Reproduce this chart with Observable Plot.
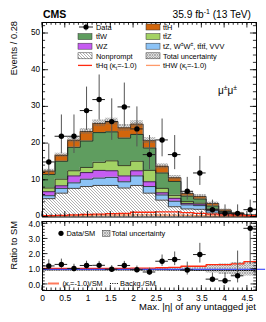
<!DOCTYPE html>
<html><head><meta charset="utf-8">
<script src="https://cdn.jsdelivr.net/npm/d3@7"></script>
<script src="https://cdn.jsdelivr.net/npm/@observablehq/plot@0.6"></script>
<style>
body{margin:0;background:#fff;}
#wrap{position:relative;width:266px;height:322px;overflow:hidden;font-family:"Liberation Sans",Arial,Helvetica,sans-serif;}
#wrap > svg{position:absolute;left:0;overflow:visible;}
</style>
</head><body>
<svg width="0" height="0" style="position:absolute">
<defs>
<pattern id="hatchNP" patternUnits="userSpaceOnUse" width="3" height="3">
<rect width="3" height="3" fill="#fff"/>
<path d="M0,0L3,3M-1,2L1,4M2,-1L4,1" stroke="#7a7a7a" stroke-width="0.6"/>
</pattern>
<pattern id="hatchUnc" patternUnits="userSpaceOnUse" width="2.5" height="2.5">
<path d="M0,0L2.5,2.5M-1,1.5L1,3.5M1.5,-1L3.5,1M0,2.5L2.5,0M-1,1L1,-1M1.5,3.5L3.5,1.5" stroke="#6a6a6a" stroke-width="0.55"/>
</pattern>
</defs>
</svg>
<div id="wrap"></div>
<script>
// ---------------- data ----------------
const xMin = 0, xMax = 4.7, nBins = 17;
const xTickLabels = [0, 0.5, 1, 1.5, 2, 2.5, 3, 3.5, 4, 4.5];
const yTickLabels = [0, 10, 20, 30, 40, 50];
const ratioTickLabels = [0, 1, 2, 3, 4];

// stacked backgrounds (bottom -> top)
const nonprompt = [5.0,6.5,7.8,8.3,8.6,8.6,7.9,8.6,6.5,4.6,2.8,2.2,2.1,1.1,0.5,0.3,0.1];
const rareBkg   = [0.8,1.3,1.5,2.0,2.0,2.2,1.7,2.6,1.8,1.4,1.5,1.1,1.0,0.6,0.5,0.3,0.2];
const wz        = [1.1,0.7,1.9,1.8,2.1,1.8,1.6,1.4,1.3,0.6,0.8,0.4,0.4,0.2,0.1,0.1,0.05];
const ttz       = [1.0,1.8,1.4,1.4,2.2,2.7,2.8,2.6,3.1,1.2,0.8,0.5,0.3,0.3,0.2,0.1,0.05];
const ttw       = [3.7,4.9,6.4,7.2,8.1,7.9,7.5,7.3,6.1,4.2,3.8,1.5,1.1,0.8,0.2,0.1,0.05];
const tth       = [0.9,1.6,1.9,2.6,2.5,2.8,2.8,2.8,2.0,1.8,1.0,0.7,0.7,0.7,0.4,0.2,0.1];
const totalUnc  = [0.5,0.6,0.7,0.8,0.9,0.9,0.9,0.9,0.8,0.7,0.6,0.5,0.5,0.4,0.3,0.2,0.15];

// signal lines (kt = -1)
const thq = [0.4,0.45,0.6,0.7,0.8,0.9,1.0,1.3,1.3,1.4,1.4,1.2,1.0,0.8,0.6,0.5,0.4];
const thw = [0.25,0.3,0.35,0.4,0.5,0.5,0.55,0.6,0.6,0.55,0.5,0.45,0.4,0.3,0.25,0.2,0.15];

// data
const dataCounts = [15,22,22,29,32,26,30,24,17,21,17,7,12,2,1,1,2];
const dataLo = [11.1,17.3,17.3,23.6,26.4,20.9,24.5,19.1,12.9,16.4,12.9,4.6,8.6,0.7,0.2,0.2,0.7];
const dataHi = [19.9,27.8,27.8,35.4,38.7,32.2,36.5,30.0,22.2,26.7,22.2,10.8,16.5,4.6,3.3,3.3,4.6];

// ratio panel
const ratioVals = [1.22,1.32,1.05,1.25,1.26,1.0,1.25,0.97,0.82,1.53,1.64,0.95,1.97,0.35,0.24,0.57,3.7];
const ratioLo   = [0.90,1.04,0.83,1.02,1.04,0.80,1.02,0.77,0.62,1.19,1.24,0.62,1.41,0.12,0.03,0.10,1.30];
const ratioHi   = [1.62,1.67,1.33,1.53,1.52,1.24,1.52,1.21,1.07,1.94,2.14,1.47,2.71,0.75,0.75,2.20,8.0];
const ratioUnc  = [0.05,0.05,0.04,0.04,0.04,0.04,0.04,0.04,0.05,0.07,0.08,0.10,0.15,0.25,0.35,0.45,0.45];
const signalRatio = [1.05,1.05,1.05,1.05,1.06,1.06,1.06,1.08,1.08,1.1,1.12,1.2,1.2,1.3,1.3,1.35,1.5];
const backgRatio  = [0.95,0.95,0.95,0.95,0.95,0.95,0.95,0.95,0.95,0.95,0.94,0.94,0.93,0.93,0.93,0.92,0.92];

// ---------------- styling ----------------
const C = {
  tth: "#d2660c", ttw: "#5f9d5f", ttz: "#a3d264", wz: "#c65cf2", rare: "#8cc3f6",
  thq: "#ff2a10", thw: "#ff9a6a", blue: "#2233ff"
};
const FONT = "Liberation Sans, Arial, Helvetica, sans-serif";

const bw = (xMax - xMin) / nBins;
const edges = d3.range(nBins + 1).map(i => xMin + i * bw);
const centers = d3.range(nBins).map(i => xMin + (i + 0.5) * bw);

const layersDef = [
  {values: nonprompt, fill: "url(#hatchNP)"},
  {values: rareBkg, fill: C.rare},
  {values: wz, fill: C.wz},
  {values: ttz, fill: C.ttz},
  {values: ttw, fill: C.ttw},
  {values: tth, fill: C.tth}
];
let cum = new Array(nBins).fill(0);
const layers = layersDef.map(l => {
  const lo = cum.slice();
  cum = cum.map((v, i) => v + l.values[i]);
  return {...l, lo, hi: cum.slice()};
});
const total = cum;

function stepRows(lo, hi) {
  return edges.map((x, i) => {
    const k = Math.min(i, nBins - 1);
    return {x, y1: lo[k], y2: hi[k]};
  });
}
function stepLine(vals) {
  return edges.map((x, i) => ({x, y: vals[Math.min(i, nBins - 1)]}));
}

const dataRows = dataCounts.map((n, i) => ({xc: centers[i], x1: edges[i], x2: edges[i + 1], n, lo: dataLo[i], hi: dataHi[i]}));
const ratioRows = ratioVals.map((r, i) => ({xc: centers[i], x1: edges[i], x2: edges[i + 1], r, lo: ratioLo[i], hi: ratioHi[i]}));

// ---------------- main panel ----------------
const mainMarks = [];
for (const l of layers) {
  mainMarks.push(Plot.areaY(stepRows(l.lo, l.hi), {x: "x", y1: "y1", y2: "y2", curve: "step-after", fill: l.fill}));
}
for (const l of layers) {
  mainMarks.push(Plot.lineY(stepLine(l.hi), {x: "x", y: "y", curve: "step-after", stroke: "#1c1c1c", strokeWidth: 0.8}));
}
mainMarks.push(Plot.areaY(stepRows(total.map((t, i) => t - totalUnc[i]), total.map((t, i) => t + totalUnc[i])),
  {x: "x", y1: "y1", y2: "y2", curve: "step-after", fill: "url(#hatchUnc)"}));
mainMarks.push(Plot.lineY(stepLine(thw), {x: "x", y: "y", curve: "step-after", stroke: C.thw, strokeWidth: 1.3}));
mainMarks.push(Plot.lineY(stepLine(thq), {x: "x", y: "y", curve: "step-after", stroke: C.thq, strokeWidth: 1.3}));
mainMarks.push(Plot.ruleX(dataRows, {x: "xc", y1: "lo", y2: "hi", stroke: "#555", strokeWidth: 1}));
mainMarks.push(Plot.ruleY(dataRows, {y: "n", x1: "x1", x2: "x2", stroke: "#222", strokeWidth: 1}));
mainMarks.push(Plot.dot(dataRows, {x: "xc", y: "n", r: 2.7, fill: "black", stroke: "none"}));
mainMarks.push(Plot.axisY({ticks: yTickLabels, tickSize: 0, tickPadding: 2.5, fontSize: 8.2, dy: -1.2, label: null}));
mainMarks.push(Plot.frame({stroke: "black", strokeWidth: 1}));

const main = Plot.plot({
  width: 266, height: 218,
  marginLeft: 42, marginRight: 10, marginTop: 22, marginBottom: 1.5,
  x: {domain: [xMin, xMax], axis: null},
  y: {domain: [0, 53], axis: null},
  style: {fontFamily: FONT, fontSize: "8.2px", background: "transparent", color: "black"},
  marks: mainMarks
});
main.style.top = "0px";

// ---------------- ratio panel ----------------
const ratio = Plot.plot({
  width: 266, height: 104,
  marginLeft: 42, marginRight: 10, marginTop: 3, marginBottom: 32,
  x: {domain: [xMin, xMax], axis: null},
  y: {domain: [-0.4, 4.15], axis: null},
  style: {fontFamily: FONT, fontSize: "8.2px", background: "transparent", color: "black"},
  marks: [
    Plot.areaY(stepRows(ratioUnc.map(u => 1 - u), ratioUnc.map(u => 1 + u)), {x: "x", y1: "y1", y2: "y2", curve: "step-after", fill: "url(#hatchUnc)"}),
    Plot.lineY(stepLine(backgRatio), {x: "x", y: "y", curve: "step-after", stroke: "black", strokeWidth: 1, strokeDasharray: "1,1.3"}),
    Plot.lineY(stepLine(signalRatio), {x: "x", y: "y", curve: "step-after", stroke: C.thq, strokeWidth: 1.3}),
    Plot.ruleY([1], {x1: xMin, x2: 4.9, stroke: C.blue, strokeWidth: 1}),
    Plot.ruleX(ratioRows, {x: "xc", y1: "lo", y2: "hi", stroke: "#555", strokeWidth: 1, clip: true}),
    Plot.ruleY(ratioRows, {y: "r", x1: "x1", x2: "x2", stroke: "#222", strokeWidth: 1}),
    Plot.dot(ratioRows, {x: "xc", y: "r", r: 2.7, fill: "black", stroke: "none"}),
    Plot.axisY({ticks: ratioTickLabels, tickSize: 0, tickPadding: 2.5, fontSize: 8.2, dy: 0.5, label: null}),
    Plot.axisX({ticks: xTickLabels, tickSize: 0, tickPadding: 4, fontSize: 8.5, label: null, tickFormat: d => String(d)}),
    Plot.frame({stroke: "black", strokeWidth: 1})
  ]
});
ratio.style.top = "218px";

const wrap = document.getElementById("wrap");
wrap.appendChild(main);
wrap.appendChild(ratio);

// ---------------- inward ticks via the plot scales ----------------
function drawTicks(plot, yMajor, yMinor, majLen, minLen) {
  const sx = plot.scale("x"), sy = plot.scale("y");
  const [xa, xb] = sx.range, [ya, yb] = sy.range; // ya bottom, yb top
  const g = d3.select(plot).append("g").attr("stroke", "black").attr("stroke-width", 0.8).attr("fill", "none");
  const xMaj = d3.range(0, 4.7 + 1e-9, 0.5), xMin_ = d3.range(0, 4.7 + 1e-9, 0.1);
  const seg = (x1, y1, x2, y2) => g.append("line").attr("x1", x1).attr("y1", y1).attr("x2", x2).attr("y2", y2);
  for (const v of xMin_) { const p = sx.apply(v); seg(p, ya, p, ya - minLen); seg(p, yb, p, yb + minLen); }
  for (const v of xMaj) { const p = sx.apply(v); seg(p, ya, p, ya - majLen); seg(p, yb, p, yb + majLen); }
  for (const v of yMinor) { const p = sy.apply(v); seg(xa, p, xa + minLen * 1.1, p); seg(xb, p, xb - minLen * 1.1, p); }
  for (const v of yMajor) { const p = sy.apply(v); seg(xa, p, xa + majLen * 1.1, p); seg(xb, p, xb - majLen * 1.1, p); }
}
drawTicks(main, yTickLabels, d3.range(0, 53, 2), 5.5, 2.8);
drawTicks(ratio, ratioTickLabels, d3.range(-0.4, 4.15, 0.2), 5, 2.5);

// ---------------- text helpers ----------------
function rich(g, x, y, parts, size, anchor = "start", extra = {}) {
  const t = g.append("text").attr("x", x).attr("y", y).attr("font-size", size)
    .attr("text-anchor", anchor).attr("font-family", FONT).attr("fill", "black");
  for (const k in extra) t.attr(k, extra[k]);
  let shift = 0;
  for (const [s, kind] of parts) {
    const target = kind === "sub" ? size * 0.28 : kind === "sup" ? -size * 0.38 : 0;
    const ts = t.append("tspan").text(s).attr("dy", target - shift);
    if (kind) ts.attr("font-size", size * 0.68);
    shift = target;
  }
  return t;
}

// ---------------- main annotations ----------------
const gm = d3.select(main).append("g");
rich(gm, 43, 17.5, [["CMS"]], 10.5, "start", {"font-weight": "bold"});
rich(gm, 251, 17.5, [["35.9 fb"], ["-1", "sup"], [" (13 TeV)"]], 10.2, "end");
rich(gm, 218, 93.5, [["\u03BC"], ["\u00B1", "sup"], ["\u03BC"], ["\u00B1", "sup"]], 10, "start");
rich(gm, 0, 0, [["Events / 0.28"]], 9.3, "end", {transform: "translate(17.3,21) rotate(-90)"});

// legend
const LF = 7.4;
const rowsY = [27, 36.6, 46.2, 55.8, 65.4];
const c1 = 78, c2 = 146, sw = 14, sh = 6;
function swatch(x, y, fill) {
  gm.append("rect").attr("x", x).attr("y", y - sh / 2).attr("width", sw).attr("height", sh)
    .attr("fill", fill).attr("stroke", "#333").attr("stroke-width", 0.5);
}
function lineSw(x, y, color) {
  gm.append("line").attr("x1", x).attr("x2", x + sw).attr("y1", y).attr("y2", y).attr("stroke", color).attr("stroke-width", 1.3);
}
// Data marker
gm.append("line").attr("x1", c1 + 1).attr("x2", c1 + sw + 1).attr("y1", rowsY[0]).attr("y2", rowsY[0]).attr("stroke", "#222");
gm.append("line").attr("x1", c1 + 8).attr("x2", c1 + 8).attr("y1", rowsY[0] - 3.5).attr("y2", rowsY[0] + 3.5).attr("stroke", "#555");
gm.append("circle").attr("cx", c1 + 8).attr("cy", rowsY[0]).attr("r", 2.6).attr("fill", "black");
rich(gm, 96, rowsY[0] + 2.7, [["Data"]], LF);
swatch(c1, rowsY[1], C.ttw); rich(gm, 96, rowsY[1] + 2.7, [["tt\u0304W"]], LF);
swatch(c1, rowsY[2], C.wz); rich(gm, 96, rowsY[2] + 2.7, [["WZ"]], LF);
swatch(c1, rowsY[3], "url(#hatchNP)"); rich(gm, 96, rowsY[3] + 2.7, [["Nonprompt"]], LF);
lineSw(c1, rowsY[4], C.thq); rich(gm, 96, rowsY[4] + 2.7, [["tHq (\u03BA"], ["t", "sub"], ["=-1.0)"]], LF);
swatch(c2, rowsY[0], C.tth); rich(gm, 163, rowsY[0] + 2.7, [["tt\u0304H"]], LF);
swatch(c2, rowsY[1], C.ttz); rich(gm, 163, rowsY[1] + 2.7, [["tt\u0304Z"]], LF);
swatch(c2, rowsY[2], C.rare); rich(gm, 163, rowsY[2] + 2.7, [["tZ, W"], ["\u00B1", "sup"], ["W"], ["\u00B1", "sup"], [", tt\u0304tt\u0304, VVV"]], LF);
swatch(c2, rowsY[3], "url(#hatchUnc)"); rich(gm, 163, rowsY[3] + 2.7, [["Total uncertainty"]], LF);
lineSw(c2, rowsY[4], C.thw); rich(gm, 163, rowsY[4] + 2.7, [["tHW (\u03BA"], ["t", "sub"], ["=-1.0)"]], LF);

// ---------------- ratio annotations ----------------
const gr = d3.select(ratio).append("g");
rich(gr, 0, 0, [["Ratio to SM"]], 9.3, "end", {transform: "translate(17.3,3) rotate(-90)"});
rich(gr, 256, 92, [["Max. |\u03B7| of any untagged jet"]], 9.5, "end");
gr.append("circle").attr("cx", 61).attr("cy", 15.3).attr("r", 2.6).attr("fill", "black");
rich(gr, 66.5, 18, [["Data/SM"]], LF);
gr.append("rect").attr("x", 102.5).attr("y", 12.3).attr("width", 7.5).attr("height", 6).attr("fill", "url(#hatchUnc)").attr("stroke", "#333").attr("stroke-width", 0.5);
rich(gr, 111.5, 18, [["Total uncertainty"]], LF);
gr.append("line").attr("x1", 48).attr("x2", 59).attr("y1", 65.5).attr("y2", 65.5).attr("stroke", "#ff7a5c").attr("stroke-width", 2);
rich(gr, 62.5, 68.2, [["(\u03BA"], ["t", "sub"], ["=-1.0)/SM"]], LF);
gr.append("line").attr("x1", 110).attr("x2", 118).attr("y1", 65.5).attr("y2", 65.5).attr("stroke", "black").attr("stroke-width", 1).attr("stroke-dasharray", "1,1.3");
rich(gr, 120, 68.2, [["Backg./SM"]], LF);
</script>
</body></html>
